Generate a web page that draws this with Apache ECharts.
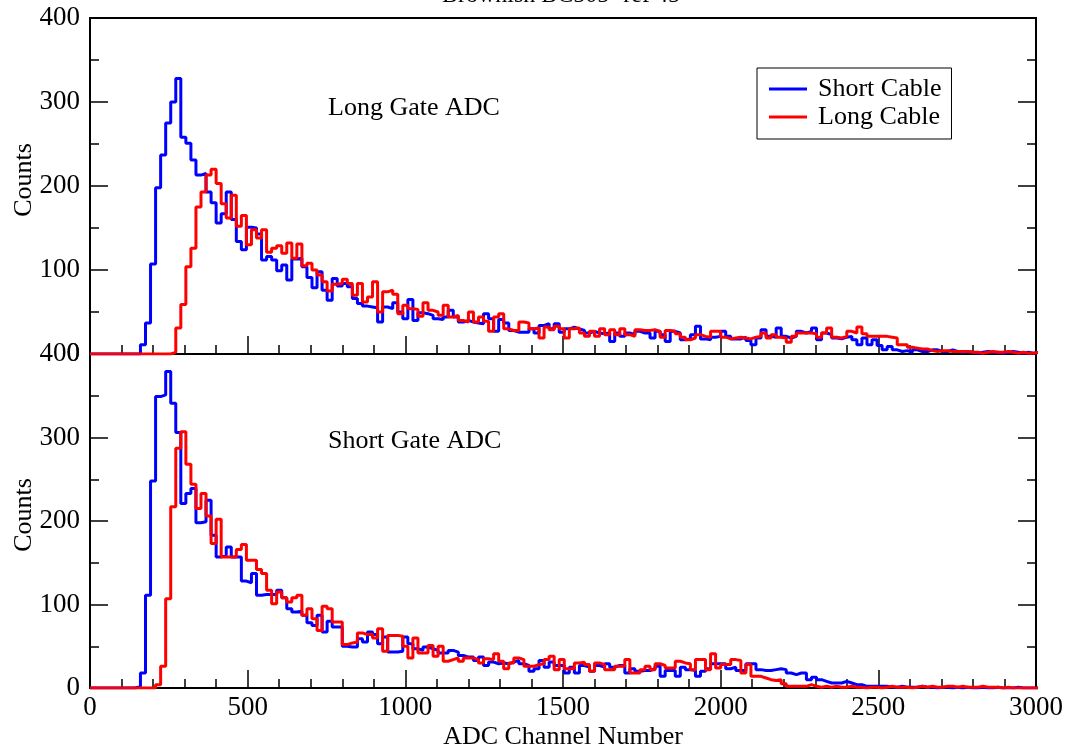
<!DOCTYPE html>
<html>
<head>
<meta charset="utf-8">
<script src="https://cdn.jsdelivr.net/npm/echarts@6/dist/echarts.min.js"></script>
<style>
  html, body { margin: 0; padding: 0; background: #fff; }
  #chart { width: 1072px; height: 751px; }
</style>
</head>
<body>
<div id="chart"></div>
<script>
// Histogram bin width in ADC channels; bin i covers [i*16, (i+1)*16)
const BIN_WIDTH = 16;

// Long gate ADC, short cable (counts per bin)
const longGateShortCable = [
  0,0,0,0,0,0,0,0,0,0,
  11,37,107,198,237,275,300,328,258,251,231,213,215,193,180,156,167,193,160,134,
  124,151,150,143,112,116,112,99,106,88,113,114,104,91,79,98,76,64,90,
  81,84,80,66,60,57,56,55,38,56,54,61,50,42,65,40,49,48,46,42,41,44,52,44,38,40,
  38,37,36,48,42,27,41,37,28,26,26,26,30,25,34,36,30,36,26,30,32,30,28,25,27,25,
  24,25,15,25,21,25,23,27,25,25,
  19,27,23,15,27,25,17,18,23,33,18,17,20,21,27,21,18,18,20,16,11,19,29,21,20,31,
  21,19,21,27,25,27,31,17,25,23,19,18,20,21,17,11,19,11,17,10,5,9,5,3,4,2,5,3,3,
  5,5,3,3,5,3,2,3,2,1,2,3,2,2,1,2,3,2,1,2,1,2
];

// Long gate ADC, long cable
const longGateLongCable = [
  0,0,0,0,0,0,0,0,0,0,0,0,0,0,0,0,
  2,31,59,104,126,175,193,213,220,203,179,162,189,152,165,130,148,138,148,121,
  126,129,120,132,114,131,105,108,100,94,86,75,83,
  84,89,84,70,84,62,68,86,50,74,76,71,48,58,54,53,45,61,52,50,46,58,44,46,40,38,
  50,38,44,39,27,44,48,30,28,28,38,37,30,31,19,32,29,33,30,19,30,31,25,21,27,21,
  30,23,29,23,30,23,21,29,28,28,
  29,27,20,28,27,24,20,17,19,23,21,20,27,27,20,18,19,20,19,18,20,21,25,19,23,20,
  19,14,21,25,25,25,24,20,25,31,20,19,21,27,25,32,24,21,21,21,21,20,19,11,11,8,7,
  6,6,4,3,4,4,3,3,3,3,2,2,1,2,3,2,2,3,2,1,2,1,1,2
];

// Short gate ADC, short cable
const shortGateShortCable = [
  0,0,0,0,0,0,0,0,0,
  2,18,111,248,349,351,379,341,306,221,233,239,198,199,225,183,157,159,169,157,157,
  128,126,137,111,112,112,112,117,108,95,91,92,87,78,75,87,67,80,73,73,50,49,49,59,
  55,67,64,53,61,43,43,44,61,53,47,45,49,47,45,42,42,45,43,39,37,37,33,37,27,31,
  29,30,29,31,33,29,27,20,23,33,25,31,27,27,18,25,18,27,25,20,27,25,29,25,27,27,
  18,23,20,21,21,
  23,26,14,21,21,14,25,22,21,14,20,23,29,29,29,23,25,21,21,29,29,22,21,21,22,23,
  22,18,16,18,18,10,13,10,8,6,6,6,8,6,4,4,2,2,2,2,2,1,1,2,1,1,1,2,1,1,0,1,1,0,1,
  0,1,0,0,1,0,0,1,0,0,0,1,0,0,0,0
];

// Short gate ADC, long cable
const shortGateLongCable = [
  0,0,0,0,0,0,0,0,0,0,0,0,0,
  4,26,107,217,287,307,268,244,215,233,206,173,202,157,157,157,166,172,153,153,142,
  137,117,101,115,108,103,108,111,87,95,83,69,98,95,79,79,52,54,55,66,64,64,60,71,
  44,63,63,62,50,36,60,42,42,51,38,50,32,34,36,32,36,36,34,30,35,34,41,32,23,30,
  36,34,26,26,28,29,34,38,22,34,23,23,30,31,28,20,30,28,22,22,26,26,34,18,18,22,26,
  22,29,27,24,24,32,30,29,22,34,34,22,41,24,28,28,34,33,18,28,14,14,12,10,9,10,5,
  2,2,2,2,4,2,1,2,1,2,1,1,2,1,1,0,1,1,0,1,2,1,1,1,0,1,2,1,2,1,1,2,2,1,2,1,1,1,2,
  1,1,1,0,1,0,0,0,0,0,0
];

const SERIES_NAMES = ['Short Cable', 'Long Cable'];
const PANEL_LABELS = ['Long Gate ADC', 'Short Gate ADC'];
const X_TITLE = 'ADC Channel Number';
const Y_TITLE = 'Counts';
const TITLE = 'Brownish BC505 -ref 45';

const FONT = '"Liberation Serif", "Times New Roman", serif';

// Turn per-bin counts into [leftEdge, count] points for a stepped outline
function toSteps(counts) {
  const pts = counts.map((c, i) => [i * BIN_WIDTH, c]);
  pts.push([counts.length * BIN_WIDTH, counts[counts.length - 1]]);
  return pts;
}

function xAxis(gridIndex, labels) {
  return {
    type: 'value', gridIndex, min: 0, max: 3000, interval: 500, position: 'bottom',
    axisLine: { show: true, onZero: false, lineStyle: { color: '#000', width: 2 } },
    axisTick: { show: true, inside: true, length: 18, lineStyle: { color: '#000', width: 1.5 } },
    minorTick: { show: true, splitNumber: 5, length: 9, lineStyle: { color: '#000', width: 1.5 } },
    splitLine: { show: false }, minorSplitLine: { show: false },
    axisLabel: { show: labels, color: '#000', fontFamily: FONT, fontSize: 27, margin: 6,
                 formatter: v => String(v) },
    name: labels ? X_TITLE : '', nameLocation: 'middle', nameGap: 36,
    nameTextStyle: { color: '#000', fontFamily: FONT, fontSize: 26 }
  };
}

function yAxis(gridIndex, side) {
  const left = side === 'left';
  return {
    type: 'value', gridIndex, min: 0, max: 400, interval: 100, position: side,
    axisLine: { show: true, onZero: false, lineStyle: { color: '#000', width: 2 } },
    axisTick: { show: true, inside: true, length: 18, lineStyle: { color: '#000', width: 1.5 } },
    minorTick: { show: true, splitNumber: 2, length: 9, lineStyle: { color: '#000', width: 1.5 } },
    splitLine: { show: false }, minorSplitLine: { show: false },
    axisLabel: { show: left, color: '#000', fontFamily: FONT, fontSize: 27, margin: 10,
                 formatter: v => String(v) }
  };
}

function histSeries(name, color, counts, idx) {
  return {
    name, type: 'line', step: 'end', showSymbol: false, symbol: 'none',
    xAxisIndex: idx, yAxisIndex: idx * 2,
    data: toSteps(counts),
    lineStyle: { color, width: 3 }, itemStyle: { color },
    clip: true, silent: true
  };
}

const LEGEND_LINE = 'path://M0,0L38,0L38,3L0,3Z';

const chart = echarts.init(document.getElementById('chart'), null, { renderer: 'canvas' });
chart.setOption({
  animation: false,
  backgroundColor: '#fff',
  grid: [
    { left: 90, width: 946, top: 18, height: 336, show: true, borderColor: '#000', borderWidth: 2, backgroundColor: 'transparent' },
    { left: 90, width: 946, top: 354, height: 334, show: true, borderColor: '#000', borderWidth: 2, backgroundColor: 'transparent' }
  ],
  xAxis: [xAxis(0, false), xAxis(1, true)],
  yAxis: [yAxis(0, 'left'), yAxis(0, 'right'), yAxis(1, 'left'), yAxis(1, 'right')],
  legend: {
    left: 757, top: 68, orient: 'vertical',
    data: SERIES_NAMES.map(n => ({ name: n, icon: LEGEND_LINE })),
    backgroundColor: '#fff', borderColor: '#000', borderWidth: 1,
    padding: [8, 10, 9, 12], itemGap: 2, itemWidth: 38, itemHeight: 3,
    textStyle: { color: '#000', fontFamily: FONT, fontSize: 26, padding: [0, 0, 0, 6] },
    selectedMode: false
  },
  series: [
    histSeries(SERIES_NAMES[0], '#0000ff', longGateShortCable, 0),
    histSeries(SERIES_NAMES[1], '#ff0000', longGateLongCable, 0),
    histSeries(SERIES_NAMES[0], '#0000ff', shortGateShortCable, 1),
    histSeries(SERIES_NAMES[1], '#ff0000', shortGateLongCable, 1)
  ],
  graphic: [
    { type: 'text', x: 561, y: 8, style: { text: TITLE, font: '24px ' + FONT, fill: '#000', align: 'center', verticalAlign: 'bottom' } },
    { type: 'text', x: 328, y: 108, style: { text: PANEL_LABELS[0], font: '26px ' + FONT, fill: '#000', verticalAlign: 'middle' } },
    { type: 'text', x: 328, y: 441, style: { text: PANEL_LABELS[1], font: '26px ' + FONT, fill: '#000', verticalAlign: 'middle' } },
    { type: 'text', x: 24, y: 180, rotation: Math.PI / 2, style: { text: Y_TITLE, font: '26px ' + FONT, fill: '#000', align: 'center', verticalAlign: 'middle' } },
    { type: 'text', x: 24, y: 515, rotation: Math.PI / 2, style: { text: Y_TITLE, font: '26px ' + FONT, fill: '#000', align: 'center', verticalAlign: 'middle' } }
  ]
});
</script>
</body>
</html>
